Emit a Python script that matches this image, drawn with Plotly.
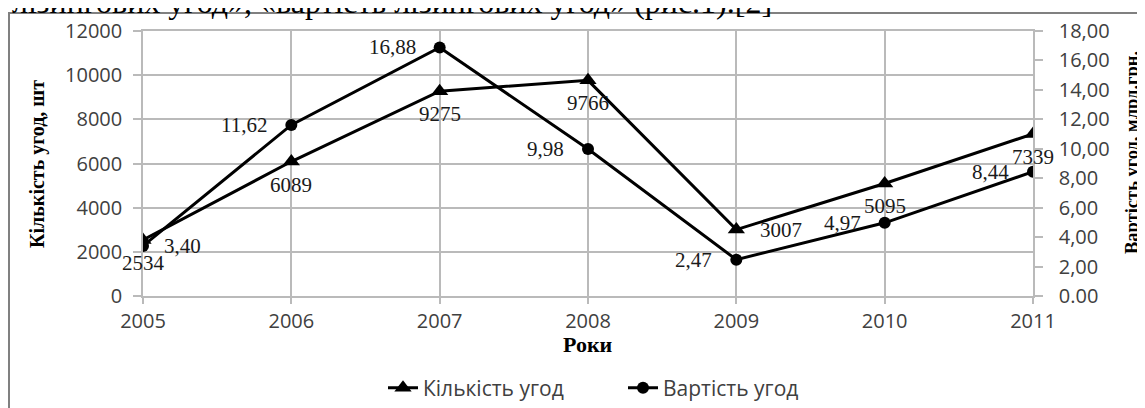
import plotly.graph_objects as go

# ---- data ----
years = [2005, 2006, 2007, 2008, 2009, 2010, 2011]
year_labels = ["2005", "2006", "2007", "2008", "2009", "2010", "2011"]
deal_count = [2534, 6089, 9275, 9766, 3007, 5095, 7339]
deal_value = [3.40, 11.62, 16.88, 9.98, 2.47, 4.97, 8.44]
count_labels = ["2534", "6089", "9275", "9766", "3007", "5095", "7339"]
value_labels = ["3,40", "11,62", "16,88", "9,98", "2,47", "4,97", "8,44"]
left_ticks = [0, 2000, 4000, 6000, 8000, 10000, 12000]
left_tick_text = ["0", "2000", "4000", "6000", "8000", "10000", "12000"]
right_ticks = [0, 2, 4, 6, 8, 10, 12, 14, 16, 18]
right_tick_text = ["0.00", "2,00", "4,00", "6,00", "8,00", "10,00", "12,00", "14,00", "16,00", "18,00"]

# label placement style (not data)
count_pos = ["below", "below", "below", "below", "right", "below", "below"]
value_pos = ["right", "left", "left", "left", "left", "left", "left"]

OFF = 8  # page body margin in the browser
W, H = 1145 - OFF, 408 - OFF
# plot-area box in page pixels
PL, PR, PT, PB = 143, 1033, 31, 296
L, R, T, B = PL - OFF, PR - OFF, PT - OFF, PB - OFF


def px_x(x):  # page pixel -> paper
    return (x - OFF - L) / (R - L)


def px_y(y):
    return (B - (y - OFF)) / (B - T)


GRID = "#bababa"
TICKFONT = dict(family="Open Sans", size=20, color="#404040")
LABELFONT = dict(family="Liberation Serif", size=21, color="#1a1a1a")

fig = go.Figure()
fig.add_trace(go.Scatter(
    x=years, y=deal_count, name="Кількість угод", mode="lines+markers",
    line=dict(color="black", width=3),
    marker=dict(symbol="triangle-up", size=15, color="black"),
    yaxis="y",
))
fig.add_trace(go.Scatter(
    x=years, y=deal_value, name="Вартість угод", mode="lines+markers",
    line=dict(color="black", width=3),
    marker=dict(symbol="circle", size=12, color="black"),
    yaxis="y2",
))

annotations = []
for xv, yv, txt, pos in zip(years, deal_count, count_labels, count_pos):
    if pos == "below":
        annotations.append(dict(x=xv, y=yv, xref="x", yref="y", text=txt, showarrow=False,
                                xanchor="center", yanchor="middle", yshift=-23, font=LABELFONT))
    else:
        annotations.append(dict(x=xv, y=yv, xref="x", yref="y", text=txt, showarrow=False,
                                xanchor="left", yanchor="middle", xshift=22, font=LABELFONT))
for xv, yv, txt, pos in zip(years, deal_value, value_labels, value_pos):
    if pos == "left":
        annotations.append(dict(x=xv, y=yv, xref="x", yref="y2", text=txt, showarrow=False,
                                xanchor="right", yanchor="middle", xshift=-22, font=LABELFONT))
    else:
        annotations.append(dict(x=xv, y=yv, xref="x", yref="y2", text=txt, showarrow=False,
                                xanchor="left", yanchor="middle", xshift=19, font=LABELFONT))

# axis titles
annotations.append(dict(x=px_x(37), y=px_y(164), xref="paper", yref="paper",
                        text="<b>Кількість угод, шт</b>", textangle=-90, showarrow=False,
                        xanchor="center", yanchor="middle",
                        font=dict(family="Liberation Serif", size=20, color="black")))
annotations.append(dict(x=px_x(1132), y=px_y(153), xref="paper", yref="paper",
                        text="<b>Вартість угод, млрд.грн.</b>", textangle=-90, showarrow=False,
                        xanchor="center", yanchor="middle",
                        font=dict(family="Liberation Serif", size=18.5, color="black")))
annotations.append(dict(x=px_x(588), y=px_y(344), xref="paper", yref="paper",
                        text="<b>Роки</b>", showarrow=False,
                        xanchor="center", yanchor="middle",
                        font=dict(family="Liberation Serif", size=22, color="black")))
# document text line above the chart (cut off at the top edge)
annotations.append(dict(x=px_x(10), y=px_y(22), xref="paper", yref="paper",
                        text="лізингових угод», «вартість лізингових угод» (рис.1).[2]",
                        showarrow=False, xanchor="left", yanchor="bottom",
                        font=dict(family="Liberation Serif", size=32, color="black")))

shapes = [dict(type="rect", xref="paper", yref="paper",
               x0=px_x(9), x1=px_x(1160), y0=px_y(430), y1=px_y(13),
               line=dict(color="#808080", width=2), fillcolor="rgba(0,0,0,0)", layer="below")]

fig.update_layout(
    width=W, height=H,
    margin=dict(l=L, r=W - R, t=T, b=H - B, autoexpand=False),
    paper_bgcolor="white", plot_bgcolor="white",
    showlegend=True,
    legend=dict(orientation="h", x=px_x(383), y=px_y(388), xanchor="left", yanchor="middle",
                entrywidth=195, entrywidthmode="pixels",
                font=dict(family="Open Sans", size=21, color="#404040"),
                bgcolor="rgba(0,0,0,0)"),
    xaxis=dict(range=[2005, 2011], tickvals=years, ticktext=year_labels,
               showgrid=True, gridcolor=GRID, gridwidth=1.5,
               showline=True, linecolor=GRID, linewidth=1.5, mirror=True,
               ticks="outside", ticklen=6, tickcolor=GRID, tickwidth=1.5,
               ticklabelstandoff=0, tickfont=TICKFONT, zeroline=False, automargin=False),
    yaxis=dict(range=[0, 12000], tickvals=left_ticks, ticktext=left_tick_text,
               showgrid=True, gridcolor=GRID, gridwidth=1.5,
               showline=True, linecolor=GRID, linewidth=1.5,
               ticks="outside", ticklen=8, tickcolor=GRID, tickwidth=1.5,
               ticklabelstandoff=7, tickfont=TICKFONT, zeroline=False, automargin=False),
    yaxis2=dict(range=[0, 18], tickvals=right_ticks, ticktext=right_tick_text,
                overlaying="y", side="right", showgrid=False,
                showline=True, linecolor=GRID, linewidth=1.5,
                ticks="outside", ticklen=8, tickcolor=GRID, tickwidth=1.5,
                ticklabelstandoff=12, tickfont=TICKFONT, zeroline=False, automargin=False),
    annotations=annotations,
    shapes=shapes,
)

fig.write_html("out.html")
